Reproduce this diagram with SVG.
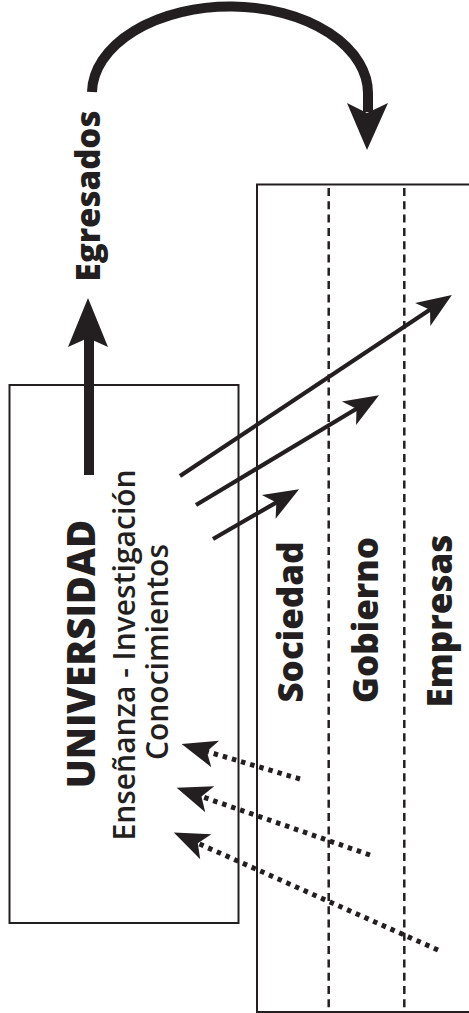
<svg xmlns="http://www.w3.org/2000/svg" width="469" height="1013" viewBox="0 0 469 1013">
  <style>
    .box { fill: none; stroke: #231f20; stroke-width: 2; }
    .sep { fill: none; stroke: #231f20; stroke-width: 2.5; stroke-dasharray: 8 5.3; }
    .thin { fill: none; stroke: #231f20; stroke-width: 4.2; }
    .dot { fill: none; stroke: #231f20; stroke-width: 5; stroke-dasharray: 4.5 5; }
    .big { fill: none; stroke: #231f20; stroke-width: 10; }
    .head { fill: #231f20; stroke: none; }
    .lbl { font-family: "Open Sans", "Liberation Sans", sans-serif; fill: #231f20; text-anchor: middle; }
    .b { font-weight: 800; }
    .r { font-weight: 600; }
  </style>
  <defs>
    <marker id="ah" markerUnits="userSpaceOnUse" markerWidth="40" markerHeight="40" viewBox="-16 -15 32 30" refX="0" refY="0" orient="auto">
      <path d="M14,0 L-14,-11 L-7,0 L-14,11 Z" fill="#231f20"/>
    </marker>
  </defs>

  <g id="universidad">
    <rect class="box" x="9.5" y="385" width="229" height="538"/>
    <text class="lbl b" font-size="38.5" transform="translate(95,654) rotate(-90)">UNIVERSIDAD</text>
    <text class="lbl r" font-size="30" transform="translate(135,655) rotate(-90)">Enseñanza - Investigación</text>
    <text class="lbl r" font-size="30" transform="translate(168,652) rotate(-90)">Conocimientos</text>
  </g>

  <g id="entorno">
    <rect class="box" x="257" y="184.5" width="230" height="827.5"/>
    <line class="sep" x1="328.7" y1="188" x2="328.7" y2="1013"/>
    <line class="sep" x1="404.3" y1="188" x2="404.3" y2="1013"/>
  </g>

  <g id="sociedad">
    <text class="lbl b" font-size="35" transform="translate(303,622) rotate(-90)">Sociedad</text>
  </g>
  <g id="gobierno">
    <text class="lbl b" font-size="35" transform="translate(378,620) rotate(-90)">Gobierno</text>
  </g>
  <g id="empresas">
    <text class="lbl b" font-size="35" transform="translate(452,621) rotate(-90)">Empresas</text>
  </g>

  <g id="egresados">
    <text class="lbl b" font-size="33" transform="translate(100,196) rotate(-90)">Egresados</text>
  </g>

  <g id="connectors">
    <line class="big" x1="89" y1="475" x2="89" y2="338"/>
    <path class="head" d="M88,298 L108,347 L88,338 L68,347 Z"/>

    <path class="big" d="M92,92 A138,87 0 0 1 368,95 L368,112"/>
    <path class="head" d="M367,150 L388,103 L367,113 L347,103 Z"/>

    <line class="thin" x1="180" y1="476" x2="437.3" y2="304.8" marker-end="url(#ah)"/>
    <line class="thin" x1="196" y1="505" x2="364" y2="404.2" marker-end="url(#ah)"/>
    <line class="thin" x1="213" y1="539" x2="283.9" y2="498.1" marker-end="url(#ah)"/>

    <line class="dot" x1="300" y1="779" x2="198.4" y2="749" marker-end="url(#ah)"/>
    <line class="dot" x1="370" y1="855" x2="193.2" y2="793.6" marker-end="url(#ah)"/>
    <line class="dot" x1="438" y1="950" x2="189.8" y2="839.7" marker-end="url(#ah)"/>
  </g>
</svg>
